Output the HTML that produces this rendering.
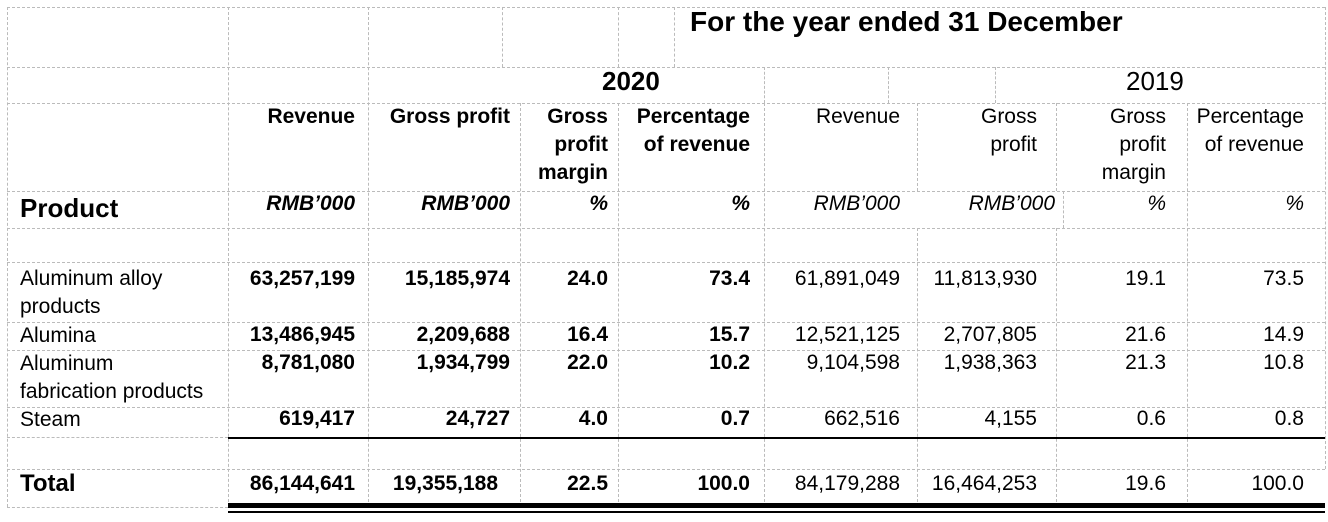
<!DOCTYPE html>
<html><head><meta charset="utf-8"><style>
body{margin:0;width:1328px;height:522px;background:#fff;position:relative;overflow:hidden;font-family:"Liberation Sans",Arial,sans-serif;color:#000}
.h{position:absolute;height:0;border-top:1px dashed #bbb}
.v{position:absolute;width:0;border-left:1px dashed #bbb}
.s{position:absolute;background:#000}
.t{position:absolute;font-size:21px;line-height:28px;white-space:nowrap}
.r{text-align:right}
.b{font-weight:bold}
.i{font-style:italic}
</style></head><body>
<div class="h" style="left:7px;width:1318px;top:7px"></div>
<div class="h" style="left:7px;width:1318px;top:67px"></div>
<div class="h" style="left:7px;width:1318px;top:103px"></div>
<div class="h" style="left:7px;width:1318px;top:191px"></div>
<div class="h" style="left:7px;width:1318px;top:228px"></div>
<div class="h" style="left:7px;width:1318px;top:262px"></div>
<div class="h" style="left:7px;width:1318px;top:322px"></div>
<div class="h" style="left:7px;width:1318px;top:350px"></div>
<div class="h" style="left:7px;width:1318px;top:407px"></div>
<div class="h" style="left:7px;width:221px;top:437px"></div>
<div class="h" style="left:7px;width:1318px;top:469px"></div>
<div class="h" style="left:7px;width:221px;top:507px"></div>
<div class="v" style="left:7px;top:7px;height:500px"></div>
<div class="v" style="left:228px;top:7px;height:500px"></div>
<div class="v" style="left:368px;top:7px;height:500px"></div>
<div class="v" style="left:502px;top:7px;height:60px"></div>
<div class="v" style="left:618px;top:7px;height:60px"></div>
<div class="v" style="left:674px;top:7px;height:60px"></div>
<div class="v" style="left:764px;top:67px;height:36px"></div>
<div class="v" style="left:888px;top:67px;height:36px"></div>
<div class="v" style="left:995px;top:67px;height:36px"></div>
<div class="v" style="left:1325px;top:7px;height:462px"></div>
<div class="v" style="left:520px;top:103px;height:404px"></div>
<div class="v" style="left:618px;top:103px;height:404px"></div>
<div class="v" style="left:764px;top:103px;height:404px"></div>
<div class="v" style="left:917px;top:103px;height:88px"></div>
<div class="v" style="left:1063px;top:191px;height:37px"></div>
<div class="v" style="left:917px;top:228px;height:279px"></div>
<div class="v" style="left:1056px;top:103px;height:88px"></div>
<div class="v" style="left:1056px;top:228px;height:279px"></div>
<div class="v" style="left:1187px;top:103px;height:404px"></div>
<div class="s" style="left:228px;width:1097px;top:437px;height:2px"></div>
<div class="s" style="left:228px;width:1097px;top:503px;height:5px"></div>
<div class="s" style="left:228px;width:1097px;top:511px;height:2px"></div>
<div class="t b" style="left:690px;top:6px;font-size:28px;line-height:32px">For the year ended 31 December</div>
<div class="t b" style="left:602px;top:66px;font-size:26px;line-height:30px">2020</div>
<div class="t" style="left:1126px;top:66px;font-size:26px;line-height:30px">2019</div>

<div class="t b r" style="left:228px;width:127px;top:103px">Revenue</div>
<div class="t b r" style="left:368px;width:142px;top:103px">Gross profit</div>
<div class="t b r" style="left:520px;width:88px;top:103px">Gross<br>profit<br>margin</div>
<div class="t b r" style="left:618px;width:132px;top:103px">Percentage<br>of revenue</div>
<div class="t r" style="left:764px;width:136px;top:103px">Revenue</div>
<div class="t r" style="left:917px;width:120px;top:103px">Gross<br>profit</div>
<div class="t r" style="left:1056px;width:110px;top:103px">Gross<br>profit<br>margin</div>
<div class="t r" style="left:1187px;width:117px;top:103px">Percentage<br>of revenue</div>

<div class="t b" style="left:20px;top:192px;font-size:26px;line-height:32px">Product</div>
<div class="t b i r" style="left:228px;width:127px;top:190px">RMB’000</div>
<div class="t b i r" style="left:368px;width:142px;top:190px">RMB’000</div>
<div class="t b i r" style="left:520px;width:88px;top:190px">%</div>
<div class="t b i r" style="left:618px;width:132px;top:190px">%</div>
<div class="t i r" style="left:764px;width:136px;top:190px">RMB’000</div>
<div class="t i r" style="left:917px;width:138px;top:190px">RMB’000</div>
<div class="t i r" style="left:1056px;width:110px;top:190px">%</div>
<div class="t i r" style="left:1187px;width:117px;top:190px">%</div>

<div class="t" style="left:20px;top:265px">Aluminum alloy<br>products</div>
<div class="t" style="left:20px;top:322px">Alumina</div>
<div class="t" style="left:20px;top:350px">Aluminum<br>fabrication products</div>
<div class="t" style="left:20px;top:406px">Steam</div>
<div class="t b" style="left:20px;top:469px;font-size:24px;line-height:30px">Total</div>

<div class="t b r" style="left:228px;width:127px;top:265px">63,257,199<br><br>13,486,945<br>8,781,080<br><br>619,417</div>
<div class="t b r" style="left:368px;width:142px;top:265px">15,185,974<br><br>2,209,688<br>1,934,799<br><br>24,727</div>
<div class="t b r" style="left:520px;width:88px;top:265px">24.0<br><br>16.4<br>22.0<br><br>4.0</div>
<div class="t b r" style="left:618px;width:132px;top:265px">73.4<br><br>15.7<br>10.2<br><br>0.7</div>
<div class="t r" style="left:764px;width:136px;top:265px">61,891,049<br><br>12,521,125<br>9,104,598<br><br>662,516</div>
<div class="t r" style="left:917px;width:120px;top:265px">11,813,930<br><br>2,707,805<br>1,938,363<br><br>4,155</div>
<div class="t r" style="left:1056px;width:110px;top:265px">19.1<br><br>21.6<br>21.3<br><br>0.6</div>
<div class="t r" style="left:1187px;width:117px;top:265px">73.5<br><br>14.9<br>10.8<br><br>0.8</div>

<div class="t b r" style="left:228px;width:127px;top:470px">86,144,641</div>
<div class="t b r" style="left:368px;width:130px;top:470px">19,355,188</div>
<div class="t b r" style="left:520px;width:88px;top:470px">22.5</div>
<div class="t b r" style="left:618px;width:132px;top:470px">100.0</div>
<div class="t r" style="left:764px;width:136px;top:470px">84,179,288</div>
<div class="t r" style="left:917px;width:120px;top:470px">16,464,253</div>
<div class="t r" style="left:1056px;width:110px;top:470px">19.6</div>
<div class="t r" style="left:1187px;width:117px;top:470px">100.0</div>
</body></html>
